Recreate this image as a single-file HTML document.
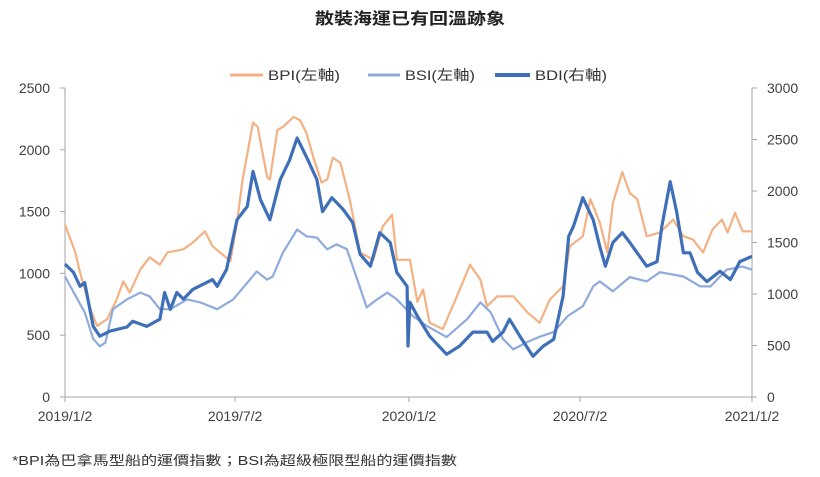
<!DOCTYPE html>
<html><head><meta charset="utf-8"><style>
html,body{margin:0;padding:0;background:#fff;}
svg{display:block;font-family:"Liberation Sans","Noto Sans CJK TC",sans-serif;}
</style></head><body>
<svg id="chart" width="820" height="477" viewBox="0 0 820 477" xmlns="http://www.w3.org/2000/svg">
<text x="410" y="24" text-anchor="middle" font-size="16" font-weight="bold" fill="#222" textLength="190" lengthAdjust="spacingAndGlyphs">散裝海運已有回溫跡象</text>
<g>
<g><line x1="230" y1="75" x2="263" y2="75" stroke="#f4b183" stroke-width="3"/><text x="268" y="80" font-size="14" fill="#333" textLength="72" lengthAdjust="spacingAndGlyphs">BPI(左軸)</text></g>
<g><line x1="368" y1="75" x2="400" y2="75" stroke="#8faadc" stroke-width="3"/><text x="405" y="80" font-size="14" fill="#333" textLength="70" lengthAdjust="spacingAndGlyphs">BSI(左軸)</text></g>
<g><line x1="495" y1="75" x2="530" y2="75" stroke="#3e6fb8" stroke-width="4"/><text x="535" y="80" font-size="14" fill="#333" textLength="72" lengthAdjust="spacingAndGlyphs">BDI(右軸)</text></g>
</g>
<g id="axes"></g>
<g id="series"></g>
<text x="12" y="465" font-size="13" fill="#333" textLength="445" lengthAdjust="spacingAndGlyphs">*BPI為巴拿馬型船的運價指數；BSI為超級極限型船的運價指數</text>
</svg>
<script>
const bpiDays=[0,11,16,27,34,45,55,62,69,80,90,101,109,126,136,149,157,176,183,189,200,205,215,218,226,232,243,250,257,264,273,279,285,293,303,314,328,338,348,353,367,375,381,388,402,417,431,442,449,460,477,492,505,516,530,537,551,559,569,577,583,593,601,609,619,633,647,658,668,679,689,699,705,713,721,731];
const bpiValues=[1395,1170,1010,710,575,630,790,935,845,1030,1130,1070,1170,1195,1250,1340,1220,1100,1410,1760,2220,2185,1780,1760,2160,2185,2265,2240,2135,1945,1735,1760,1935,1895,1595,1170,1110,1380,1475,1110,1110,770,870,600,550,815,1070,950,735,815,815,685,600,790,895,1220,1300,1600,1410,1170,1570,1820,1650,1600,1300,1330,1435,1300,1275,1170,1355,1435,1330,1490,1340,1340];
const bsiDays=[0,21,30,37,43,51,66,80,90,101,112,130,144,162,179,194,204,215,221,232,247,257,268,279,289,300,311,321,332,343,353,370,385,406,428,442,453,466,477,492,506,520,535,551,562,569,583,601,619,633,658,676,687,704,721,731];
const bsiValues=[975,685,470,410,440,710,790,845,815,710,710,790,765,710,790,925,1015,950,975,1170,1355,1300,1290,1195,1235,1195,950,725,790,845,790,655,575,485,630,765,685,470,385,445,490,525,655,735,895,935,855,970,935,1010,975,895,895,1030,1055,1030];
const bdiDays=[0,9,16,21,30,37,48,66,72,87,101,106,112,119,126,136,157,162,172,183,194,200,208,218,229,239,247,257,268,274,284,296,306,314,325,335,346,353,364,365,367,375,388,406,420,434,449,455,466,473,484,498,509,520,530,536,541,551,562,569,575,583,593,601,619,630,635,644,651,658,665,673,683,697,708,718,731];
const bdiValues=[1290,1210,1075,1110,685,590,640,680,735,685,755,1015,850,1015,950,1045,1140,1075,1240,1720,1850,2190,1915,1720,2110,2300,2515,2330,2110,1800,1935,1820,1695,1385,1270,1595,1500,1210,1075,495,920,785,590,415,495,630,630,540,630,755,590,395,495,560,980,1560,1655,1935,1720,1460,1270,1500,1595,1500,1270,1315,1655,2090,1790,1400,1400,1210,1120,1220,1140,1315,1365];
const leftTicks=[0,500,1000,1500,2000,2500];
const rightTicks=[0,500,1000,1500,2000,2500,3000];
const xTickDays=[0,181,366,548,731];
const xTickLabels=["2019/1/2","2019/7/2","2020/1/2","2020/7/2","2021/1/2"];

const X0=65,X1=752,Y0=397,Y1=88,NS="http://www.w3.org/2000/svg";
const xs=d=>X0+d/731*(X1-X0);
const yL=v=>Y0-v/2500*(Y0-Y1);
const yR=v=>Y0-v/3000*(Y0-Y1);
const axes=document.getElementById('axes'),series=document.getElementById('series');
function mk(tag,attrs,parent){const e=document.createElementNS(NS,tag);for(const k in attrs)e.setAttribute(k,attrs[k]);parent.appendChild(e);return e;}
const ax="#a6a6a6";
let l=mk('line',{x1:X0,y1:Y1,x2:X0,y2:Y0,stroke:ax},axes);


l=mk('line',{x1:X1,y1:Y1,x2:X1,y2:Y0,stroke:ax},axes);


l=mk('line',{x1:X0,y1:Y0,x2:X1,y2:Y0,stroke:ax},axes);


leftTicks.forEach(v=>{
 mk('line',{x1:X0-5,y1:yL(v),x2:X0,y2:yL(v),stroke:ax},axes);
 const t=mk('text',{x:X0-15,y:yL(v)+5,'text-anchor':'end','font-size':14,fill:'#404040'},axes);
 t.textContent=v;
 
 
});
rightTicks.forEach(v=>{
 mk('line',{x1:X1,y1:yR(v),x2:X1+5,y2:yR(v),stroke:ax},axes);
 const t=mk('text',{x:X1+15,y:yR(v)+5,'font-size':14,fill:'#404040'},axes);
 t.textContent=v;
 
 
});
xTickDays.forEach((d,i)=>{
 mk('line',{x1:xs(d),y1:Y0,x2:xs(d),y2:Y0+5,stroke:ax},axes);
 const t=mk('text',{x:xs(d),y:Y0+24,'text-anchor':'middle','font-size':14,fill:'#404040'},axes);
 t.textContent=xTickLabels[i];
 
 
});
function line(days,vals,yf,color,w,name){
 const p=days.map((d,i)=>(i?'L':'M')+xs(d).toFixed(1)+','+yf(vals[i]).toFixed(1)).join('');
 const e=mk('path',{d:p,fill:'none',stroke:color,'stroke-width':w,'stroke-linejoin':'round'},series);
 
 
}
line(bpiDays,bpiValues,yL,'#f4b183',2.2,'bpi-line');
line(bsiDays,bsiValues,yL,'#8faadc',2.2,'bsi-line');
line(bdiDays,bdiValues,yR,'#3e6fb8',3.2,'bdi-line');
</script>
</body></html>
